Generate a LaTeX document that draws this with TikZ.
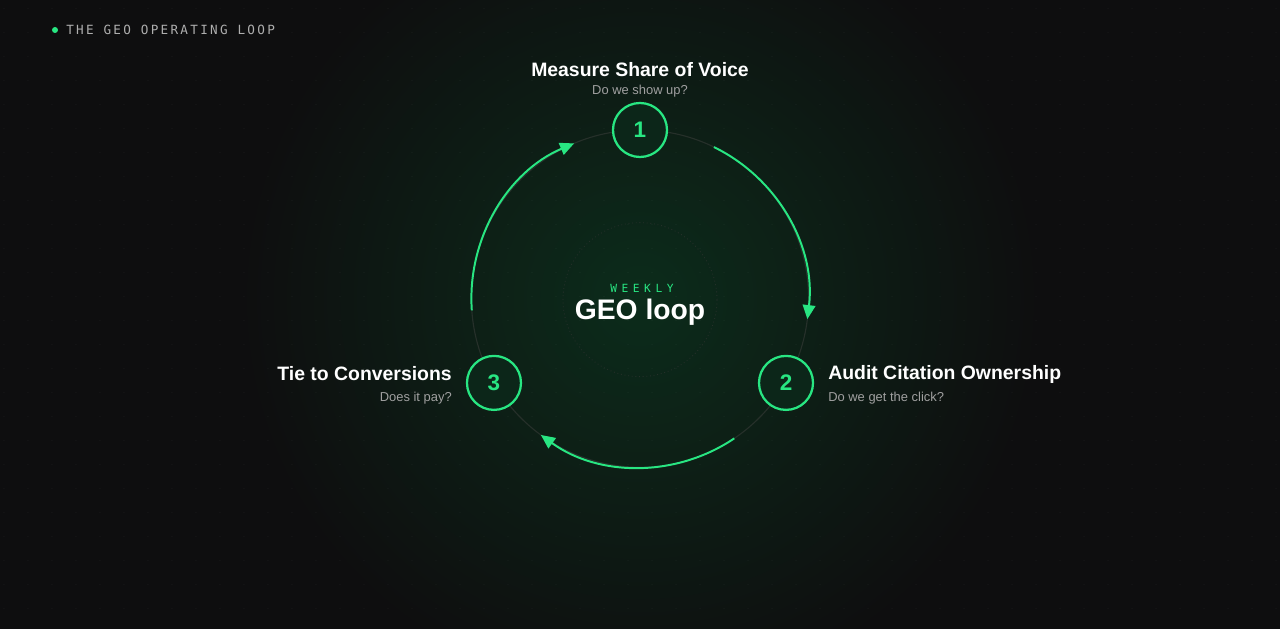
\documentclass[tikz,border=0pt]{standalone}
\usepackage{fontspec}
\setmainfont{Liberation Sans}
\newfontfamily\monofont[LetterSpace=18]{DejaVu Sans Mono}
\newfontfamily\widemono[LetterSpace=40]{DejaVu Sans Mono}
\usetikzlibrary{arrows.meta}
\definecolor{bg}{RGB}{14,14,15}
\definecolor{glow}{RGB}{12,44,27}
\definecolor{neon}{RGB}{40,230,130}
\definecolor{ring}{RGB}{38,48,42}
\definecolor{subtxt}{RGB}{160,160,160}
\begin{document}
\begin{tikzpicture}[x=0.025cm, y=0.025cm,
  stage/.style={circle, draw=neon, line width=1.6pt, fill=glow!80!bg, minimum size=1.35cm,
    inner sep=0pt, text=neon, font=\bfseries\fontsize{16}{16}\selectfont},
  title/.style={text=white, font=\bfseries\fontsize{13.8}{16}\selectfont, inner sep=0pt},
  sub/.style={text=subtxt, font=\fontsize{9.2}{11}\selectfont, inner sep=0pt},
  flow/.style={neon, line width=1.4pt, -{Triangle[length=10pt,width=9pt]}}]
  % Background and glow
  \fill[bg] (-640,298.6) rectangle (640,-330.4);
  \useasboundingbox (-640,298.6) rectangle (640,-330.4);
  \shade[inner color=glow, outer color=bg] (0,0) circle (400);
  % Dot grid
  \foreach \x in {-636,-612,...,640} {
    \foreach \y in {290,266,...,-330} {
      \fill[white, opacity=0.05] (\x,\y) circle (0.6);
    }
  }
  % Header
  \fill[neon] (-585,268.6) circle (3);
  \node[anchor=west, text=subtxt!85, font=\monofont\fontsize{9}{11}\selectfont, inner sep=0pt]
    (head) at (-574,268.6) {THE GEO OPERATING LOOP};
  % Faint rings
  \draw[ring, line width=0.8pt] (0,0) circle (168.6);
  \draw[ring, dotted, line width=0.6pt] (0,-1) circle (77);
  % Centre text
  \node[text=neon, font=\widemono\fontsize{8}{9}\selectfont, inner sep=0pt] (wk) at (2,10.6) {WEEKLY};
  \node[text=white, font=\bfseries\fontsize{20.1}{24}\selectfont, inner sep=0pt] (geo) at (0,-13.4) {GEO loop};
  % Arcs between stages
  \draw[flow] (64:168.6) arc (64:-7:168.6);
  \draw[flow] (-56:168.6) arc (-56:-126:168.6);
  \draw[flow] (184:168.6) arc (184:113:168.6);
  % Stages
  \node[stage] (s1) at (90:168.6) {1};
  \node[stage] (s2) at (-30:168.6) {2};
  \node[stage] (s3) at (210:168.6) {3};
  % Labels
  \node[title] (t1) at (0,228.6) {Measure Share of Voice};
  \node[sub] (d1) at (0,207.6) {Do we show up?};
  \node[title, anchor=west] (t2) at (188,-75.4) {Audit Citation Ownership};
  \node[sub, anchor=west] (d2) at (188,-99.4) {Do we get the click?};
  \node[title, anchor=east] (t3) at (-188,-75.4) {Tie to Conversions};
  \node[sub, anchor=east] (d3) at (-188,-99.4) {Does it pay?};
\end{tikzpicture}
\end{document}
